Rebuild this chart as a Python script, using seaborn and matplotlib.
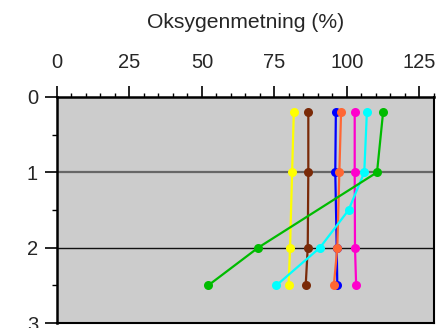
import matplotlib
matplotlib.use("Agg")
import matplotlib.pyplot as plt
import seaborn as sns
import pandas as pd
from matplotlib.ticker import MultipleLocator

sns.set_style("white")
plt.rcParams['font.family'] = ['Liberation Sans', 'DejaVu Sans']

depth = [0.2, 1.0, 2.0, 2.5]
depth_cyan = [0.2, 1.0, 1.5, 2.0, 2.5]
yellow = [81.7, 81.1, 80.4, 79.9]
brown = [86.7, 86.7, 86.5, 85.8]
blue = [96.2, 96.0, 96.5, 96.7]
orange = [98.0, 97.4, 96.7, 95.5]
magenta = [102.7, 102.7, 102.8, 103.2]
cyan = [106.9, 106.0, 100.6, 90.7, 75.7]
green = [112.5, 110.4, 69.4, 52.2]

series = [
    ("yellow", yellow, depth, "#ffff00"),
    ("brown", brown, depth, "#7a2a08"),
    ("blue", blue, depth, "#0000ff"),
    ("orange", orange, depth, "#ff6633"),
    ("magenta", magenta, depth, "#ff00cc"),
    ("cyan", cyan, depth_cyan, "#00ffff"),
    ("green", green, depth, "#00bb00"),
]

xticks = [0, 25, 50, 75, 100, 125]
yticks = [0, 1, 2, 3]

fig = plt.figure(figsize=(4.4, 3.28), dpi=100)
ax = fig.add_axes([0.1295, 0.0152, 0.8565, 0.6891])
ax.set_facecolor("#cccccc")

ax.axhline(1, color="#666666", lw=1.6, zorder=1)
ax.axhline(2, color="#111111", lw=1.0, zorder=1)

for name, vals, d, col in series:
    df = pd.DataFrame({"x": vals, "y": d})
    sns.lineplot(data=df, x="x", y="y", sort=False, estimator=None, color=col, lw=1.6,
                 marker="o", markersize=6.5, markeredgewidth=0, ax=ax, zorder=3)

ax.set_xlim(0, 130)
ax.set_ylim(3, 0)
ax.xaxis.tick_top()
ax.xaxis.set_label_position("top")
ax.set_xticks(xticks)
ax.set_yticks(yticks)
ax.xaxis.set_minor_locator(MultipleLocator(5))
ax.yaxis.set_minor_locator(MultipleLocator(0.5))
ax.tick_params(axis="x", which="major", direction="out", length=8, width=1.2, labelsize=14.5, pad=10, color="black", top=True, bottom=False)
ax.tick_params(axis="x", which="minor", direction="out", length=3, width=1.0, color="black", top=True, bottom=False)
ax.tick_params(axis="y", which="major", direction="out", length=8.6, width=1.2, labelsize=14.5, pad=5, color="black", left=True)
ax.tick_params(axis="y", which="minor", direction="out", length=3.6, width=1.0, color="black", left=True)
ax.set_xlabel("Oksygenmetning (%)", fontsize=15.2, labelpad=18)
ax.set_ylabel("")
for s in ["top", "left"]:
    ax.spines[s].set_linewidth(1.8)
    ax.spines[s].set_color("black")
for s in ["right", "bottom"]:
    ax.spines[s].set_linewidth(1.5)
    ax.spines[s].set_color("black")
if ax.get_legend():
    ax.get_legend().remove()

fig.savefig("out.png", dpi=100)
